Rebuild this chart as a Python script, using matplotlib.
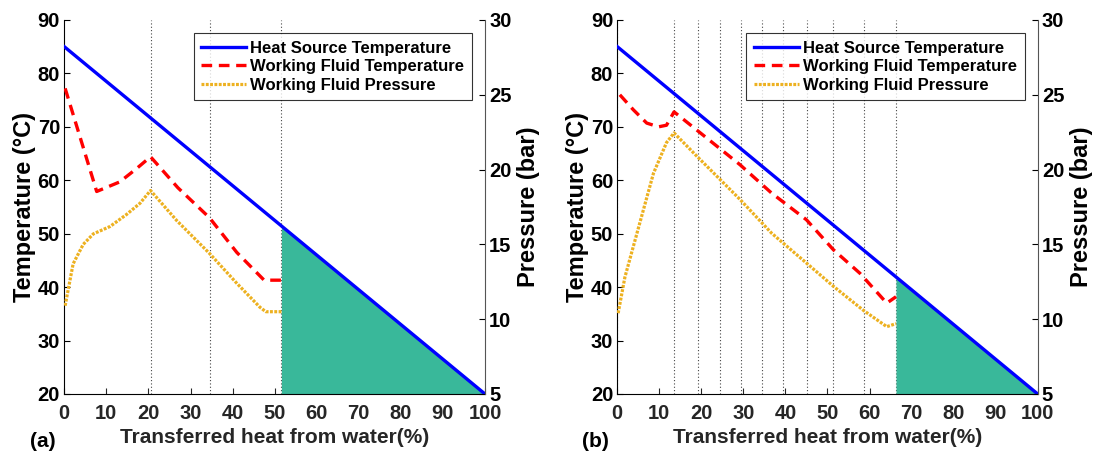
import numpy as np
import matplotlib
matplotlib.use("Agg")
import matplotlib.pyplot as plt

plt.rcParams['font.family'] = ['Liberation Sans', 'DejaVu Sans']

# ── DATA ─────────────────────────────────────────────────────
# heat source line (same for both cases)
hs_x = [0, 100]
hs_T = [85, 20]

# (a)
a_pinch = 51.6
a_vlines = [20.6, 34.6]
a_wf_x = [0.2, 3.7, 7.7, 13.2, 17.2, 20.5, 27.0, 34.5, 41.0, 47.5, 51.6]
a_wf_T = [77.2, 68.2, 57.9, 59.7, 62.2, 64.4, 58.6, 53.0, 46.5, 41.3, 41.3]
a_p_x = [0.2, 2.1, 4.5, 6.9, 10.9, 14.8, 18.0, 20.5, 26.7, 34.5, 41.0, 46.5, 47.9, 51.6]
a_p = [10.9, 13.7, 15.0, 15.7, 16.2, 17.0, 17.75, 18.6, 16.6, 14.4, 12.4, 10.8, 10.5, 10.5]

# (b)
b_pinch = 66.3
b_vlines = [0, 13.6, 19.2, 24.4, 29.4, 34.4, 39.5, 45.2, 51.3, 58.6]
b_wf_x = [0.6, 3.8, 7.0, 9.8, 11.7, 13.5, 18.9, 29.2, 36.7, 45.0, 51.4, 57.7, 64.1, 66.3]
b_wf_T = [76.0, 73.2, 70.7, 70.0, 70.3, 72.8, 69.4, 62.9, 57.6, 52.6, 47.0, 42.6, 37.0, 38.2]
b_p_x = [0.2, 1.8, 3.8, 6.2, 8.6, 11.7, 13.5, 18.9, 29.2, 36.7, 45.0, 51.4, 58.5, 64.1, 66.3]
b_p = [10.4, 12.8, 14.85, 17.3, 19.75, 21.8, 22.45, 20.9, 18.0, 15.75, 13.75, 12.2, 10.6, 9.5, 9.7]

BLUE = '#0000FF'
RED = '#FF0000'
GOLD = '#EDB120'
TEAL = '#39B89A'
GRAY = '#262626'


def draw_panel(ax, pinch, vlines, wf_x, wf_T, p_x, p, tag):
    for v in vlines:
        ax.axvline(v, color='#444444', ls=(0, (1, 2)), lw=0.8, zorder=1)
    ax.axvline(pinch, color='#444444', ls=(0, (1, 2)), lw=0.8, zorder=1)

    fx = np.array([pinch, 100])
    ax.fill_between(fx, 20, np.interp(fx, hs_x, hs_T), color=TEAL, lw=0, zorder=2)

    h1, = ax.plot(hs_x, hs_T, color=BLUE, lw=2.4, zorder=5,
                  label='Heat Source Temperature')
    h2, = ax.plot(wf_x, wf_T, color=RED, lw=2.4, ls=(0, (3.2, 2.0)), zorder=4,
                  label='Working Fluid Temperature')

    ax2 = ax.twinx()
    h3, = ax2.plot(p_x, p, color=GOLD, lw=2.3, ls=(0, (0.9, 0.45)), zorder=4,
                   label='Working Fluid Pressure')

    ax.set_xlim(0, 100)
    ax.set_ylim(20, 90)
    ax2.set_ylim(5, 30)
    ax.set_xticks(range(0, 101, 10))
    ax.set_yticks(range(20, 91, 10))
    ax2.set_yticks(range(5, 31, 5))

    for a in (ax, ax2):
        a.spines['top'].set_visible(False)
    ax2.spines['left'].set_visible(False)
    ax2.spines['bottom'].set_visible(False)
    ax2.spines['right'].set_color('#555555')
    ax.spines['right'].set_visible(False)

    ax.tick_params(axis='x', direction='in', length=4, colors=GRAY,
                   labelsize=14.5, pad=7)
    ax.tick_params(axis='y', direction='in', length=4, labelsize=14.5,
                   colors='black', pad=3)
    ax2.tick_params(axis='y', direction='in', length=4, labelsize=14.5,
                    colors='black', pad=3)
    for lab in ax.get_xticklabels() + ax.get_yticklabels() + ax2.get_yticklabels():
        lab.set_fontweight('bold')

    ax.set_xlabel('Transferred heat from water(%)', fontsize=15,
                  fontweight='bold', color=GRAY, labelpad=4)
    ax.set_ylabel('Temperature (°C)', fontsize=17, fontweight='bold', labelpad=1)
    ax2.set_ylabel('Pressure (bar)', fontsize=17, fontweight='bold', labelpad=4)

    leg = ax2.legend([h1, h2, h3], [h.get_label() for h in (h1, h2, h3)],
                     loc='upper right', bbox_to_anchor=(0.969, 0.965),
                     fontsize=12, frameon=True, fancybox=False,
                     borderpad=0.45, labelspacing=0.22, handlelength=2.7,
                     handletextpad=0.25, borderaxespad=0)
    leg.get_frame().set_edgecolor('black')
    leg.get_frame().set_linewidth(0.8)
    for t in leg.get_texts():
        t.set_fontweight('bold')

    ax.text(-0.052, -0.128, tag, transform=ax.transAxes, fontsize=15,
            fontweight='bold', ha='center', va='center')


fig = plt.figure(figsize=(10.99, 4.57), dpi=100)
ax_a = fig.add_axes([0.0585, 0.1379, 0.3828, 0.8184])
ax_b = fig.add_axes([0.5617, 0.1379, 0.3825, 0.8184])

draw_panel(ax_a, a_pinch, a_vlines, a_wf_x, a_wf_T, a_p_x, a_p, '(a)')
draw_panel(ax_b, b_pinch, b_vlines, b_wf_x, b_wf_T, b_p_x, b_p, '(b)')

fig.savefig('out.png', dpi=100)
